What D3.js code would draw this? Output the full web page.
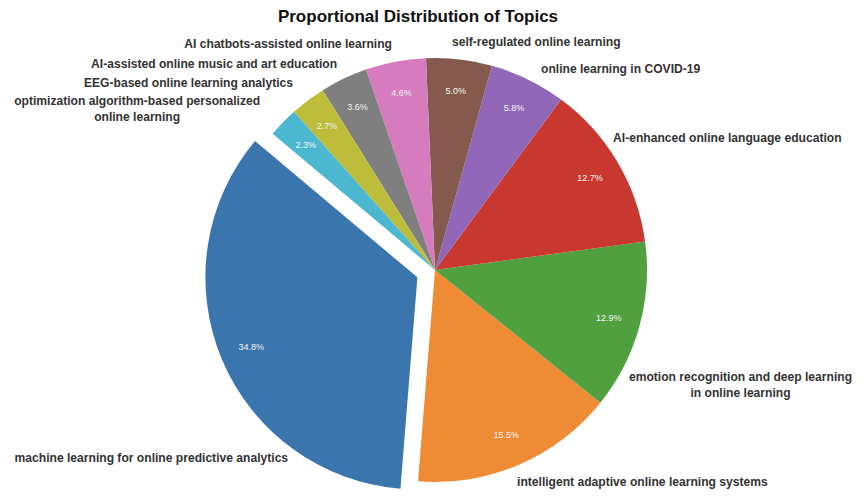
<!DOCTYPE html>
<html>
<head>
<meta charset="utf-8">
<script src="https://cdn.jsdelivr.net/npm/d3@7"></script>
<style>
    body { margin: 0; background: #fff; }
    svg { display: block; }
    text { font-family: "Liberation Sans", Arial, sans-serif; }
</style>
</head>
<body>
<svg id="chart" width="864" height="500"></svg>
<script>
// dados (ordem original do matplotlib)
var topics = [
    "machine learning for online predictive analytics",
    "intelligent adaptive online learning systems",
    "emotion recognition and deep learning\nin online learning",
    "AI-enhanced online language education",
    "online learning in COVID-19",
    "self-regulated online learning",
    "AI chatbots-assisted online learning",
    "AI-assisted online music and art education",
    "EEG-based online learning analytics",
    "optimization algorithm-based personalized\nonline learning"
];
var shares = [34.8, 15.5, 12.9, 12.7, 5.8, 5.0, 4.6, 3.6, 2.7, 2.3];
var explodeIdx = 0;

// cores (tab10, um pouco desbotadas como na imagem)
var colors = ["#3a75ae", "#ef8a35", "#50a040", "#c9382f", "#9168b9",
              "#845a4c", "#d57bbe", "#7f7f7f", "#bdbd3b", "#4bb8cf"];

// posicao dos rotulos, relativa ao centro em unidades do raio [dx, dy, lado]
var labelPos = [
    [-0.693, 0.887, "end"],
    [0.387, 1.000, "start"],
    [0.915, 0.542, "start"],
    [0.840, -0.623, "start"],
    [0.500, -0.948, "start"],
    [0.080, -1.075, "start"],
    [-0.203, -1.066, "end"],
    [-0.462, -0.972, "end"],
    [-0.670, -0.882, "end"],
    [-0.825, -0.759, "end"]
];

var width = 864, height = 500;
var cx = 435, cy = 270, radius = 212;
var startDeg = 140; //startangle do matplotlib, sentido anti-horario
var explode = 0.09;
var pctDistance = 0.85;

var svg = d3.select("#chart");

svg.append("text")
    .attr("x", 418)
    .attr("y", 16)
    .attr("text-anchor", "middle")
    .attr("dominant-baseline", "central")
    .attr("font-size", "17px")
    .attr("font-weight", "bold")
    .attr("fill", "#111")
    .text("Proportional Distribution of Topics");

// angulos do d3: horario a partir de 12h -> converte
var a0 = (90 - startDeg) * Math.PI / 180;
var pie = d3.pie()
    .sort(null)
    .startAngle(a0)
    .endAngle(a0 - 2 * Math.PI)
    .value(function(d){ return d; });

var arcs = pie(shares);

var arc = d3.arc()
    .innerRadius(0)
    .outerRadius(radius);

var g = svg.append("g")
    .attr("transform", "translate(" + cx + "," + cy + ")");

function offset(d, i){
    if(i != explodeIdx) return [0, 0];
    var mid = (d.startAngle + d.endAngle) / 2;
    return [Math.sin(mid) * explode * radius, -Math.cos(mid) * explode * radius];
}

g.selectAll("path")
    .data(arcs)
    .enter()
    .append("path")
        .attr("d", arc)
        .attr("fill", function(d, i){ return colors[i]; })
        .attr("transform", function(d, i){
            var o = offset(d, i);
            return "translate(" + o[0] + "," + o[1] + ")";
        });

// percentuais dentro das fatias
g.selectAll("text.pct")
    .data(arcs)
    .enter()
    .append("text")
        .attr("class", "pct")
        .attr("x", function(d, i){
            var mid = (d.startAngle + d.endAngle) / 2;
            return Math.sin(mid) * pctDistance * radius + offset(d, i)[0];
        })
        .attr("y", function(d, i){
            var mid = (d.startAngle + d.endAngle) / 2;
            return -Math.cos(mid) * pctDistance * radius + offset(d, i)[1];
        })
        .attr("text-anchor", "middle")
        .attr("dominant-baseline", "central")
        .attr("font-size", "9px")
        .attr("fill", "#f4f4f4")
        .text(function(d){ return d.data.toFixed(1) + "%"; });

// rotulos (multilinha centralizados no bloco, como no matplotlib)
var lineH = 16;
topics.forEach(function(name, i){
    var lines = name.split("\n");
    var t = g.append("text")
        .attr("font-size", "12.1px")
        .attr("font-weight", "bold")
        .attr("fill", "#333")
        .attr("text-anchor", "middle")
        .attr("dominant-baseline", "central");
    var spans = lines.map(function(l, k){
        return t.append("tspan").text(l);
    });
    var maxW = d3.max(spans, function(s){ return s.node().getComputedTextLength(); });
    var px = labelPos[i][0] * radius;
    var py = labelPos[i][1] * radius;
    var midX = labelPos[i][2] == "start" ? px + maxW / 2 : px - maxW / 2;
    spans.forEach(function(s, k){
        s.attr("x", midX)
         .attr("y", py + (k - (lines.length - 1) / 2) * lineH);
    });
});
</script>
</body>
</html>
